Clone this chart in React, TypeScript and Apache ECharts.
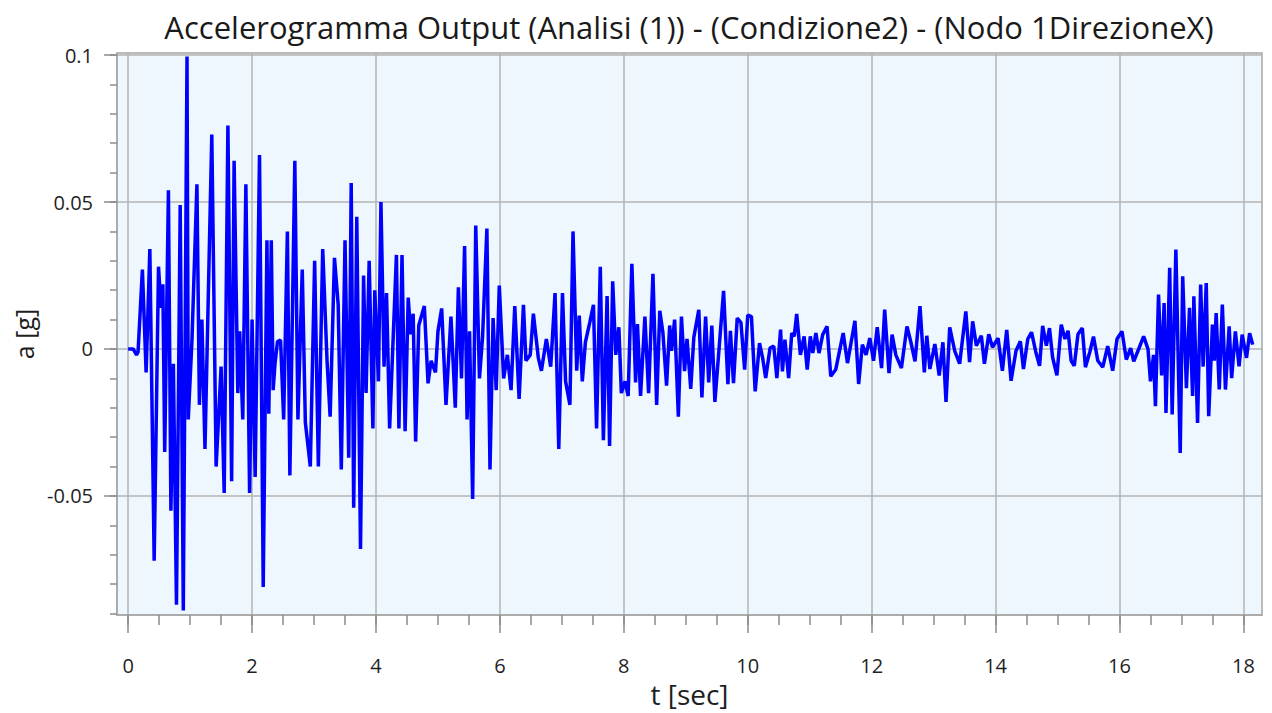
import React, { useEffect, useRef } from "react";
import * as echarts from "echarts";

const titleText = "Accelerogramma Output (Analisi (1)) - (Condizione2) - (Nodo 1DirezioneX)";
const xName = "t [sec]";
const yName = "a [g]";

const xMajorTicks = [0, 2, 4, 6, 8, 10, 12, 14, 16, 18];
const xMinorTicks = [0, 0.5, 1, 1.5, 2, 2.5, 3, 3.5, 4, 4.5, 5, 5.5, 6, 6.5, 7, 7.5, 8, 8.5, 9, 9.5, 10, 10.5, 11, 11.5, 12, 12.5, 13, 13.5, 14, 14.5, 15, 15.5, 16, 16.5, 17, 17.5, 18];
const yMajorTicks = [-0.05, 0, 0.05, 0.1];
const yMinorTicks = [-0.09, -0.08, -0.07, -0.06, -0.05, -0.04, -0.03, -0.02, -0.01, 0, 0.01, 0.02, 0.03, 0.04, 0.05, 0.06, 0.07, 0.08, 0.09, 0.1];

const times = [
  0.0, 0.08, 0.135, 0.16, 0.23, 0.29, 0.35, 0.42, 0.49, 0.53, 0.56, 0.59, 0.65, 0.69, 0.73, 0.78, 0.84, 0.89, 0.95, 0.97,
  1.03, 1.11, 1.15, 1.19, 1.24, 1.35, 1.42, 1.5, 1.55, 1.61, 1.67, 1.71, 1.77, 1.8, 1.85, 1.9, 1.96, 2.0, 2.05, 2.12,
  2.18, 2.24, 2.27, 2.31, 2.34, 2.37, 2.41, 2.46, 2.51, 2.57, 2.61, 2.69, 2.74, 2.81, 2.86, 2.94, 3.01, 3.07, 3.14, 3.21,
  3.26, 3.33, 3.39, 3.44, 3.5, 3.56, 3.6, 3.64, 3.69, 3.75, 3.8, 3.84, 3.89, 3.95, 3.98, 4.04, 4.08, 4.13, 4.17, 4.22,
  4.33, 4.37, 4.42, 4.47, 4.52, 4.56, 4.6, 4.64, 4.69, 4.78, 4.84, 4.89, 4.96, 5.0, 5.06, 5.13, 5.21, 5.28, 5.33, 5.38,
  5.43, 5.47, 5.51, 5.56, 5.61, 5.67, 5.72, 5.79, 5.84, 5.89, 5.94, 5.99, 6.06, 6.12, 6.18, 6.24, 6.31, 6.38, 6.42, 6.49,
  6.54, 6.62, 6.67, 6.75, 6.82, 6.89, 6.95, 7.01, 7.06, 7.13, 7.18, 7.24, 7.28, 7.33, 7.38, 7.45, 7.51, 7.56, 7.62, 7.67,
  7.73, 7.77, 7.82, 7.87, 7.92, 7.96, 8.02, 8.07, 8.13, 8.19, 8.22, 8.27, 8.34, 8.4, 8.47, 8.53, 8.58, 8.63, 8.69, 8.74,
  8.77, 8.82, 8.88, 8.93, 8.98, 9.02, 9.08, 9.13, 9.21, 9.26, 9.32, 9.37, 9.42, 9.47, 9.61, 9.68, 9.72, 9.77, 9.83, 9.89,
  9.95, 10.0, 10.06, 10.12, 10.19, 10.24, 10.29, 10.36, 10.42, 10.47, 10.53, 10.56, 10.6, 10.66, 10.71, 10.75, 10.79, 10.85, 10.91, 10.96,
  11.01, 11.05, 11.1, 11.15, 11.21, 11.28, 11.34, 11.42, 11.54, 11.61, 11.73, 11.79, 11.85, 11.91, 11.97, 12.03, 12.09, 12.16, 12.21, 12.28,
  12.33, 12.39, 12.48, 12.57, 12.63, 12.7, 12.78, 12.85, 12.89, 12.94, 13.02, 13.09, 13.15, 13.2, 13.26, 13.34, 13.42, 13.52, 13.58, 13.63,
  13.69, 13.77, 13.82, 13.89, 13.95, 14.04, 14.11, 14.18, 14.25, 14.33, 14.4, 14.45, 14.52, 14.58, 14.65, 14.71, 14.76, 14.82, 14.87, 14.92,
  14.99, 15.06, 15.12, 15.17, 15.22, 15.27, 15.33, 15.4, 15.45, 15.52, 15.58, 15.65, 15.73, 15.81, 15.89, 15.96, 16.04, 16.11, 16.18, 16.23,
  16.31, 16.39, 16.46, 16.5, 16.55, 16.58, 16.63, 16.68, 16.72, 16.75, 16.81, 16.85, 16.91, 16.98, 17.02, 17.08, 17.13, 17.18, 17.2, 17.26,
  17.31, 17.35, 17.4, 17.44, 17.5, 17.53, 17.56, 17.61, 17.66, 17.71, 17.77, 17.81, 17.87, 17.93, 17.98, 18.05, 18.1, 18.15
];

const accel = [
  0.0, 0.0, -0.002, -0.001, 0.027, -0.008, 0.034, -0.072, 0.028, 0.014, 0.022, -0.035, 0.054, -0.055, -0.005, -0.087, 0.049, -0.089, 0.0995, -0.024,
  0.003, 0.056, -0.019, 0.01, -0.034, 0.073, -0.04, -0.006, -0.049, 0.076, -0.045, 0.064, -0.015, 0.006, -0.024, 0.056, -0.049, 0.01, -0.0435, 0.066,
  -0.081, 0.037, -0.022, 0.037, -0.014, -0.005, 0.0025, 0.003, -0.024, 0.04, -0.043, 0.064, -0.024, 0.027, -0.025, -0.04, 0.03, -0.04, 0.034, -0.004,
  -0.023, 0.031, 0.015, -0.041, 0.037, -0.037, 0.0565, -0.054, 0.045, -0.068, 0.025, -0.015, 0.03, -0.027, 0.02, -0.011, 0.05, -0.006, 0.019, -0.027,
  0.032, -0.027, 0.032, -0.028, 0.0175, 0.005, 0.012, -0.0315, 0.008, 0.0146, -0.0117, -0.004, -0.008, 0.006, 0.0138, -0.019, 0.011, -0.02, 0.021, -0.01,
  0.035, -0.024, 0.006, -0.051, 0.042, -0.01, 0.004, 0.041, -0.041, 0.0105, -0.014, 0.0216, -0.01, -0.002, -0.014, 0.0146, -0.017, 0.015, -0.004, -0.002,
  0.012, -0.003, -0.0074, 0.0034, -0.006, 0.019, -0.034, 0.019, -0.011, -0.019, 0.04, -0.0074, 0.0114, -0.011, 0.0023, 0.009, 0.015, -0.027, 0.028, -0.031,
  0.018, -0.033, 0.023, -0.002, 0.0074, -0.015, -0.011, -0.016, 0.029, -0.0114, 0.0085, -0.016, 0.011, -0.015, 0.0256, -0.019, 0.013, 0.0057, -0.0125, 0.008,
  -0.0006, 0.01, -0.023, 0.011, -0.0075, 0.0034, -0.0136, 0.004, 0.0133, -0.0165, 0.011, -0.0114, 0.008, -0.018, 0.0198, -0.012, 0.0062, -0.0116, 0.0105, 0.009,
  -0.007, 0.0115, 0.011, -0.0144, 0.002, -0.003, -0.0099, 0.0003, 0.001, -0.0099, 0.0066, -0.0076, 0.0032, -0.0099, 0.0054, 0.0043, 0.0119, -0.002, 0.0043, -0.007,
  0.0043, -0.0014, 0.0054, -0.0014, 0.0049, 0.0077, -0.0093, -0.007, 0.0054, -0.0048, 0.0096, -0.0119, 0.0015, -0.002, 0.0037, -0.004, 0.0074, -0.0065, 0.0134, -0.0082,
  0.0049, -0.002, -0.0065, 0.0077, 0.0026, -0.0042, 0.0146, -0.008, 0.0045, -0.0068, 0.0017, -0.009, 0.0023, -0.018, 0.0074, -0.0006, -0.005, 0.0128, -0.0045, 0.0094,
  0.0011, 0.0045, -0.005, 0.005, 0.0006, 0.0037, -0.0074, 0.0065, -0.0108, -0.0006, 0.0026, -0.0068, 0.0034, 0.0057, -0.0011, -0.0057, 0.0079, 0.0011, 0.0071, -0.0028,
  -0.009, 0.0083, 0.0034, 0.0062, -0.004, -0.0057, 0.005, 0.0071, -0.0062, -0.0011, 0.0042, -0.004, -0.0062, 0.001, -0.0074, 0.0034, 0.006, -0.0036, 0.0003, -0.0042,
  0.0, 0.0043, 0.0, -0.011, -0.002, -0.0195, 0.0185, -0.009, 0.0156, -0.0218, 0.0276, -0.0223, 0.0338, -0.0354, 0.0247, -0.0133, 0.014, -0.016, 0.0179, -0.0252,
  0.0219, -0.006, 0.0224, -0.0229, 0.0083, -0.004, 0.0122, -0.0138, 0.0151, -0.0138, 0.0077, -0.0099, 0.006, -0.0059, 0.0049, -0.003, 0.0054, 0.0015
];

const X_MIN = -0.18;
const X_MAX = 18.3;
const Y_MIN = -0.0905;
const Y_MAX = 0.1007;

export default function App() {
  const ref = useRef<HTMLDivElement>(null);

  useEffect(() => {
    if (!ref.current) return;
    const chart = echarts.init(ref.current, null, { renderer: "svg" });
    const font = "'Open Sans', 'Noto Sans', sans-serif";
    const gridColor = "#b3b3b3";
    const tickColor = "#8c8c8c";
    const labelColor = "#1f1f1f";

    chart.setOption({
      animation: false,
      backgroundColor: "#ffffff",
      textStyle: { fontFamily: font },
      graphic: [
        {
          type: "text",
          x: 689,
          y: 27,
          style: {
            text: titleText,
            fill: "#1a1a1a",
            font: `31px ${font}`,
            textAlign: "center",
            textVerticalAlign: "middle",
          },
        },
      ],
      grid: {
        left: 117,
        right: 10,
        top: 53,
        bottom: 98,
        show: true,
        backgroundColor: "#eef6fe",
        borderColor: "#a6a6a6",
        borderWidth: 1.5,
      },
      xAxis: [
        {
          type: "value",
          min: X_MIN,
          max: X_MAX,
          position: "bottom",
          name: xName,
          nameLocation: "middle",
          nameGap: 61,
          nameTextStyle: { fontSize: 28, color: labelColor, fontFamily: font },
          axisLine: { show: true, onZero: false, lineStyle: { color: "#a6a6a6", width: 1.5 } },
          axisTick: { show: true, length: 18, customValues: xMajorTicks, lineStyle: { color: tickColor, width: 1.5 } },
          axisLabel: { customValues: xMajorTicks, margin: 40, fontSize: 20, color: labelColor, fontFamily: font },
          splitLine: { show: true, lineStyle: { color: gridColor, width: 1.5 } },
        },
        {
          type: "value",
          min: X_MIN,
          max: X_MAX,
          position: "bottom",
          axisLine: { show: false, onZero: false },
          axisTick: { show: true, length: 10, customValues: xMinorTicks, lineStyle: { color: tickColor, width: 1.5 } },
          axisLabel: { show: false },
          splitLine: { show: false },
        },
      ],
      yAxis: [
        {
          type: "value",
          min: Y_MIN,
          max: Y_MAX,
          position: "left",
          name: yName,
          nameLocation: "middle",
          nameGap: 78,
          nameRotate: 90,
          nameTextStyle: { fontSize: 25, color: labelColor, fontFamily: font },
          axisLine: { show: true, onZero: false, lineStyle: { color: "#a6a6a6", width: 1.5 } },
          axisTick: { show: true, length: 13, customValues: yMajorTicks, lineStyle: { color: tickColor, width: 1.5 } },
          axisLabel: { customValues: yMajorTicks, margin: 24, fontSize: 20, color: labelColor, fontFamily: font },
          splitLine: { show: true, lineStyle: { color: gridColor, width: 1.5 } },
        },
        {
          type: "value",
          min: Y_MIN,
          max: Y_MAX,
          position: "left",
          axisLine: { show: false, onZero: false },
          axisTick: { show: true, length: 7, customValues: yMinorTicks, lineStyle: { color: tickColor, width: 1.5 } },
          axisLabel: { show: false },
          splitLine: { show: false },
        },
      ],
      series: [
        {
          type: "line",
          xAxisIndex: 0,
          yAxisIndex: 0,
          data: times.map((t, i) => [t, accel[i]]),
          showSymbol: false,
          symbol: "none",
          lineStyle: { color: "#0000ff", width: 3.5 },
          z: 5,
        },
      ],
    });

    return () => chart.dispose();
  }, []);

  return (
    <div
      ref={ref}
      style={{ position: "fixed", left: 0, top: 0, width: 1272, height: 713 }}
    />
  );
}
